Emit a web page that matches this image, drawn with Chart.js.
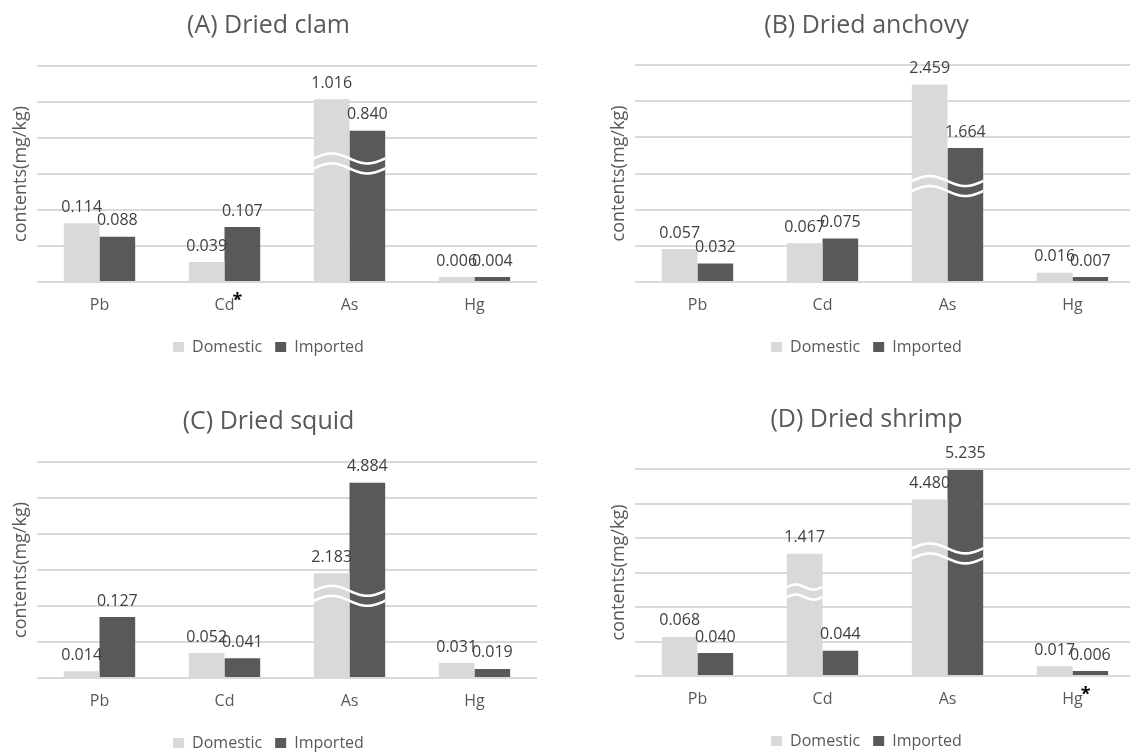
<!DOCTYPE html>
<html><head><meta charset="utf-8">
<script src="https://cdn.jsdelivr.net/npm/chart.js@4.4.1/dist/chart.umd.min.js"></script>
<style>
html,body{margin:0;padding:0;background:#fff;overflow:hidden;width:1130px;height:753px;position:relative;}
.p{position:absolute;}
canvas{display:block;}
</style></head><body>
<div class="p" style="left:0;top:0"><canvas id="cA" width="540" height="365"></canvas></div>
<div class="p" style="left:598px;top:0"><canvas id="cB" width="540" height="365"></canvas></div>
<div class="p" style="left:0;top:396px"><canvas id="cC" width="540" height="365"></canvas></div>
<div class="p" style="left:598px;top:394px"><canvas id="cD" width="540" height="365"></canvas></div>
<script>
// ---- data ----
const categories = ['Pb', 'Cd', 'As', 'Hg'];
const seriesNames = ['Domestic', 'Imported'];

const clamDomestic = [0.114, 0.039, 1.016, 0.006];
const clamImported = [0.088, 0.107, 0.840, 0.004];
const anchovyDomestic = [0.057, 0.067, 2.459, 0.016];
const anchovyImported = [0.032, 0.075, 1.664, 0.007];
const squidDomestic = [0.014, 0.052, 2.183, 0.031];
const squidImported = [0.127, 0.041, 4.884, 0.019];
const shrimpDomestic = [0.068, 1.417, 4.480, 0.017];
const shrimpImported = [0.040, 0.044, 5.235, 0.006];

// broken value axis: lower part linear up to axisMax; values between `from` and `to` are cut out,
// values above `to` continue at `ratio` axis units per mg/kg
const clamAxisMax = 0.42;
const anchovyAxisMax = 0.375;
const squidAxisMax = 0.45;
const shrimpAxisMax = 0.36;
const clamBreaks = [{from: 0.2305, to: 0.6565, ratio: 0.3477, cats: ['As']}];
const anchovyBreaks = [{from: 0.1658, to: 1.187, ratio: 0.138, cats: ['As']}];
const squidBreaks = [{from: 0.1712, to: 1.513, ratio: 0.0699, cats: ['As']}];
const shrimpBreaks = [
  {from: 0.146, to: 1.0, ratio: 0.16, cats: ['Cd']},
  {from: 1.42, to: 3.1, ratio: 0.068, cats: ['As']}
];

// ---- styles ----
const FONT = "'Open Sans', 'Noto Sans', sans-serif";
const DOM_COLOR = '#d9d9d9';
const IMP_COLOR = '#595959';
const TEXT_COLOR = '#595959';
const LABEL_COLOR = '#404040';

function toAxis(v, breaks) {
  let base = 0, baseAxis = 0, slope = 1;
  for (const b of breaks) {
    const fromAxis = baseAxis + slope * (b.from - base);
    if (v <= b.from) return baseAxis + slope * (v - base);
    if (v < b.to) return fromAxis;
    base = b.to; baseAxis = fromAxis; slope = b.ratio;
  }
  return baseAxis + slope * (v - base);
}

const BREAKS = {};
class BrokenScale extends Chart.LinearScale {
  getPixelForValue(v) {
    if (v === null || v === undefined) return NaN;
    return super.getPixelForValue(toAxis(v, BREAKS[this.chart.canvas.id] || []));
  }
  getPixelForTick(i) {
    const t = this.ticks;
    if (i < 0 || i > t.length - 1) return null;
    return super.getPixelForValue(t[i].value);
  }
}
BrokenScale.id = 'broken';
BrokenScale.defaults = Chart.LinearScale.defaults;
Chart.register(BrokenScale);

const STARS = {};
const overlay = {
  id: 'overlay',
  afterDatasetsDraw(chart) {
    const ctx = chart.ctx;
    const y = chart.scales.y;
    const breaks = BREAKS[chart.canvas.id] || [];
    // break marks
    breaks.forEach(b => {
      b.cats.forEach(cat => {
        const j = chart.data.labels.indexOf(cat);
        let l = Infinity, r = -Infinity;
        chart.data.datasets.forEach((ds, i) => {
          if (ds.data[j] >= b.to) {
            const el = chart.getDatasetMeta(i).data[j];
            l = Math.min(l, el.x - el.width / 2);
            r = Math.max(r, el.x + el.width / 2);
          }
        });
        if (l > r) return;
        const lvl = y.getPixelForValue(b.from);
        const W = r - l, A = W * 0.07;
        ctx.save();
        ctx.beginPath(); ctx.rect(l, chart.chartArea.top - 40, W, chart.chartArea.bottom); ctx.clip();
        ctx.strokeStyle = '#ffffff';
        ctx.lineWidth = 2.6;
        [-5, 5].forEach(off => {
          ctx.beginPath();
          for (let x = l - 2; x <= r + 2; x += 0.5) {
            const t = (x - l) / W;
            const yy = lvl + off - A * Math.sin(2 * Math.PI * t);
            if (x === l - 2) ctx.moveTo(x, yy); else ctx.lineTo(x, yy);
          }
          ctx.stroke();
        });
        ctx.restore();
      });
    });
    // value labels
    ctx.save();
    ctx.font = '16px ' + FONT;
    ctx.fillStyle = LABEL_COLOR;
    ctx.textAlign = 'center';
    ctx.textBaseline = 'middle';
    chart.data.datasets.forEach((ds, i) => {
      const meta = chart.getDatasetMeta(i);
      ds.data.forEach((v, j) => {
        const el = meta.data[j];
        ctx.fillText(v.toFixed(3), el.x, el.y - 16);
      });
    });
    ctx.restore();
  },
  afterDraw(chart) {
    const star = STARS[chart.canvas.id];
    if (!star) return;
    const ctx = chart.ctx;
    const x = chart.scales.x;
    const j = chart.data.labels.indexOf(star);
    ctx.save();
    ctx.font = '16px ' + FONT;
    const w = ctx.measureText(star).width;
    ctx.font = 'bold 18px ' + FONT;
    ctx.fillStyle = '#000000';
    ctx.textAlign = 'left';
    ctx.textBaseline = 'middle';
    ctx.fillText('*', x.getPixelForValue(j) + w / 2 - 2, chart.chartArea.bottom + 19);
    ctx.restore();
  }
};

function makeChart(id, title, dom, imp, axisMax, breaks, star, titleGap) {
  BREAKS[id] = breaks;
  STARS[id] = star;
  return new Chart(document.getElementById(id), {
    type: 'bar',
    data: {
      labels: categories,
      datasets: [
        {label: seriesNames[0], data: dom, backgroundColor: DOM_COLOR, borderWidth: 0},
        {label: seriesNames[1], data: imp, backgroundColor: IMP_COLOR, borderWidth: 0}
      ]
    },
    options: {
      responsive: false,
      devicePixelRatio: 1,
      animation: false,
      layout: {padding: {left: 0, right: 3, top: 0, bottom: 0}},
      datasets: {bar: {categoryPercentage: 0.571, barPercentage: 1.0, minBarLength: 5}},
      plugins: {
        title: {
          display: true, text: title, color: TEXT_COLOR,
          font: {family: FONT, size: 25, weight: 'normal'},
          padding: {top: 11, bottom: titleGap}
        },
        legend: {
          position: 'bottom',
          labels: {boxWidth: 11, boxHeight: 10, color: TEXT_COLOR, padding: 13,
                   font: {family: FONT, size: 16}}
        },
        tooltip: {enabled: false}
      },
      scales: {
        x: {
          grid: {display: false, drawTicks: false},
          border: {display: false},
          ticks: {color: TEXT_COLOR, font: {family: FONT, size: 16}, padding: 14},
          afterFit(axis) { axis.height = 44; }
        },
        y: {
          type: 'broken',
          min: 0, max: axisMax,
          grid: {color: '#d9d9d9', lineWidth: 2, drawTicks: false},
          border: {display: false},
          ticks: {display: false, count: 7},
          title: {display: true, text: 'contents(mg/kg)', color: TEXT_COLOR,
                  font: {family: FONT, size: 18}, padding: {top: 10, bottom: 0}},
          afterFit(axis) { axis.width = 37; }
        }
      }
    },
    plugins: [overlay]
  });
}

makeChart('cA', '(A) Dried clam', clamDomestic, clamImported, clamAxisMax, clamBreaks, 'Cd', 25);
makeChart('cB', '(B) Dried anchovy', anchovyDomestic, anchovyImported, anchovyAxisMax, anchovyBreaks, null, 24);
makeChart('cC', '(C) Dried squid', squidDomestic, squidImported, squidAxisMax, squidBreaks, null, 25);
makeChart('cD', '(D) Dried shrimp', shrimpDomestic, shrimpImported, shrimpAxisMax, shrimpBreaks, 'Hg', 34);
</script>
</body></html>
